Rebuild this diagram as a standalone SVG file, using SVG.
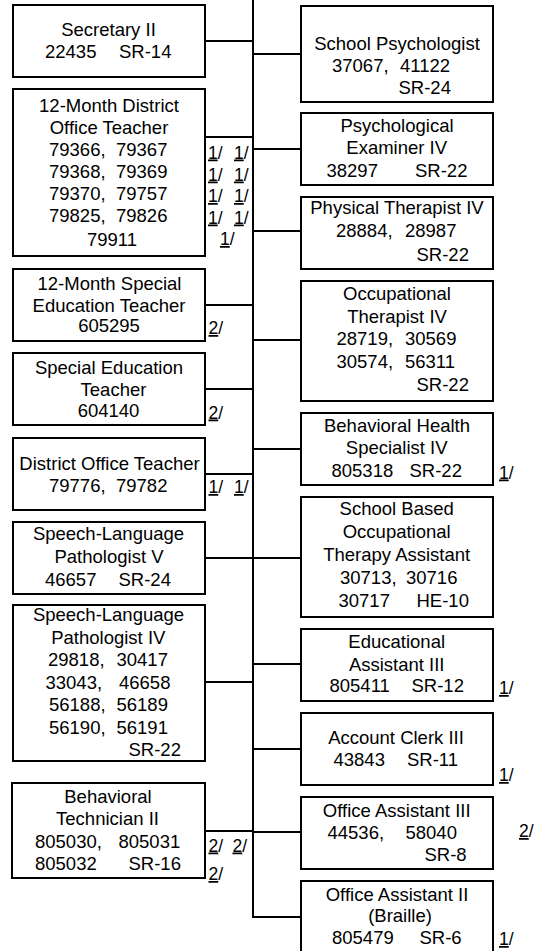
<svg xmlns="http://www.w3.org/2000/svg" width="535" height="951" viewBox="0 0 535 951">
<style>
  .box { fill: #fff; stroke: #000; stroke-width: 2; }
  .ln { stroke: #000; stroke-width: 2; fill: none; }
  text { font-family: "Liberation Sans", Arial, sans-serif; font-size: 18.5px; fill: #000; }
  .c { text-anchor: middle; }
  .fn { font-size: 17.5px; }
  .u { text-decoration: underline; }
</style>
<rect width="535" height="951" fill="#fff"/>

<!-- connectors: trunk and branches -->
<g id="connectors" class="ln">
  <path d="M253,0 V917 H301"/>
  <path d="M205,41 H253 M205,137 H253 M205,305 H253 M205,389 H253 M205,474 H253 M205,558 H253 M205,682 H253 M205,831 H253"/>
  <path d="M253,54 H301 M253,149 H301 M253,231 H301 M253,340 H301 M253,449 H301 M253,558 H301 M253,664 H301 M253,749 H301 M253,832 H301"/>
</g>

<!-- left column -->
<g id="secretary-ii">
  <rect class="box" x="13" y="5" width="192" height="72"/>
  <text class="c" x="108.5" y="36">Secretary II</text>
  <text x="45" y="57.5">22435</text><text x="119" y="57.5">SR-14</text>
</g>

<g id="district-office-teacher-12m">
  <rect class="box" x="13" y="89" width="192" height="167"/>
  <text class="c" x="109" y="112">12-Month District</text>
  <text class="c" x="109" y="134">Office Teacher</text>
  <text x="49" y="156">79366,</text><text x="116" y="156">79367</text>
  <text x="49" y="178">79368,</text><text x="116" y="178">79369</text>
  <text x="49" y="200">79370,</text><text x="116" y="200">79757</text>
  <text x="49" y="222">79825,</text><text x="116" y="222">79826</text>
  <text class="c" x="112" y="246">79911</text>
  <text class="fn" x="208" y="158.5"><tspan class="u">1</tspan>/</text><text class="fn" x="234" y="158.5"><tspan class="u">1</tspan>/</text>
  <text class="fn" x="208" y="180.5"><tspan class="u">1</tspan>/</text><text class="fn" x="234" y="180.5"><tspan class="u">1</tspan>/</text>
  <text class="fn" x="208" y="202"><tspan class="u">1</tspan>/</text><text class="fn" x="234" y="202"><tspan class="u">1</tspan>/</text>
  <text class="fn" x="208" y="223.5"><tspan class="u">1</tspan>/</text><text class="fn" x="234" y="223.5"><tspan class="u">1</tspan>/</text>
  <text class="fn" x="220" y="245"><tspan class="u">1</tspan>/</text>
</g>

<g id="special-ed-teacher-12m">
  <rect class="box" x="13" y="269" width="192" height="72"/>
  <text class="c" x="109.5" y="289.5">12-Month Special</text>
  <text class="c" x="109" y="311.5">Education Teacher</text>
  <text class="c" x="109" y="332">605295</text>
  <text class="fn" x="208.5" y="334"><tspan class="u">2</tspan>/</text>
</g>

<g id="special-ed-teacher">
  <rect class="box" x="13" y="353" width="192" height="72"/>
  <text class="c" x="109" y="373.5">Special Education</text>
  <text class="c" x="113.5" y="395.5">Teacher</text>
  <text class="c" x="108.5" y="417">604140</text>
  <text class="fn" x="208.5" y="418.5"><tspan class="u">2</tspan>/</text>
</g>

<g id="district-office-teacher">
  <rect class="box" x="13" y="438" width="192" height="72"/>
  <text class="c" x="109.5" y="469.5">District Office Teacher</text>
  <text x="49" y="491.5">79776,</text><text x="116" y="491.5">79782</text>
  <text class="fn" x="208.5" y="493"><tspan class="u">1</tspan>/</text><text class="fn" x="234" y="493"><tspan class="u">1</tspan>/</text>
</g>

<g id="slp-v">
  <rect class="box" x="13" y="522" width="192" height="72"/>
  <text class="c" x="108.5" y="539.5">Speech-Language</text>
  <text class="c" x="109" y="562.5">Pathologist V</text>
  <text x="45" y="585.5">46657</text><text x="118.5" y="585.5">SR-24</text>
</g>

<g id="slp-iv">
  <rect class="box" x="13" y="605" width="192" height="156"/>
  <text class="c" x="108.5" y="621">Speech-Language</text>
  <text class="c" x="108.3" y="643.5">Pathologist IV</text>
  <text x="48" y="666">29818,</text><text x="116.5" y="666">30417</text>
  <text x="45.5" y="688.5">33043,</text><text x="119" y="688.5">46658</text>
  <text x="49" y="711">56188,</text><text x="116.5" y="711">56189</text>
  <text x="49" y="733.5">56190,</text><text x="116.5" y="733.5">56191</text>
  <text x="128.5" y="756">SR-22</text>
</g>

<g id="behavioral-technician-ii">
  <rect class="box" x="12" y="783" width="193" height="95"/>
  <text class="c" x="108" y="802.5">Behavioral</text>
  <text class="c" x="107.5" y="825">Technician II</text>
  <text x="35" y="848">805030,</text><text x="118.5" y="848">805031</text>
  <text x="35" y="870">805032</text><text x="128.5" y="870">SR-16</text>
  <text class="fn" x="208.5" y="851.5"><tspan class="u">2</tspan>/</text><text class="fn" x="232.5" y="851.5"><tspan class="u">2</tspan>/</text>
  <text class="fn" x="208.5" y="880"><tspan class="u">2</tspan>/</text>
</g>

<!-- right column -->
<g id="school-psychologist">
  <rect class="box" x="301" y="6" width="192" height="96"/>
  <text class="c" x="397" y="49.5">School Psychologist</text>
  <text x="332" y="71.5">37067,</text><text x="400" y="71.5">41122</text>
  <text x="398.5" y="94">SR-24</text>
</g>

<g id="psychological-examiner-iv">
  <rect class="box" x="301" y="113" width="192" height="72"/>
  <text class="c" x="397" y="131.7">Psychological</text>
  <text class="c" x="396.7" y="154.3">Examiner IV</text>
  <text x="326.5" y="176.7">38297</text><text x="415" y="176.7">SR-22</text>
</g>

<g id="physical-therapist-iv">
  <rect class="box" x="301" y="197" width="192" height="72"/>
  <text class="c" x="397" y="214.3">Physical Therapist IV</text>
  <text x="336" y="237">28884,</text><text x="405" y="237">28987</text>
  <text x="416.5" y="261">SR-22</text>
</g>

<g id="occupational-therapist-iv">
  <rect class="box" x="301" y="281" width="192" height="120"/>
  <text class="c" x="397" y="300">Occupational</text>
  <text class="c" x="397" y="322.5">Therapist IV</text>
  <text x="336.5" y="345">28719,</text><text x="405" y="345">30569</text>
  <text x="336.5" y="367.5">30574,</text><text x="405" y="367.5">56311</text>
  <text x="416.5" y="391">SR-22</text>
</g>

<g id="behavioral-health-specialist-iv">
  <rect class="box" x="301" y="413" width="192" height="72"/>
  <text class="c" x="397" y="431.7">Behavioral Health</text>
  <text class="c" x="396.7" y="454.3">Specialist IV</text>
  <text x="331.5" y="476.7">805318</text><text x="409.5" y="476.7">SR-22</text>
  <text class="fn" x="499" y="478.5"><tspan class="u">1</tspan>/</text>
</g>

<g id="school-based-ot-assistant">
  <rect class="box" x="301" y="497" width="192" height="120"/>
  <text class="c" x="396.7" y="515">School Based</text>
  <text class="c" x="396.7" y="538">Occupational</text>
  <text class="c" x="396.7" y="560.5">Therapy Assistant</text>
  <text x="340" y="583.5">30713,</text><text x="406" y="583.5">30716</text>
  <text x="338.5" y="606.7">30717</text><text x="416.5" y="606.7">HE-10</text>
</g>

<g id="educational-assistant-iii">
  <rect class="box" x="301" y="629" width="192" height="72"/>
  <text class="c" x="396.7" y="648.3">Educational</text>
  <text class="c" x="396.7" y="670.7">Assistant III</text>
  <text x="329.5" y="692.3">805411</text><text x="411.5" y="692.3">SR-12</text>
  <text class="fn" x="499" y="694"><tspan class="u">1</tspan>/</text>
</g>

<g id="account-clerk-iii">
  <rect class="box" x="301" y="713" width="192" height="72"/>
  <text class="c" x="396" y="744">Account Clerk III</text>
  <text x="333.5" y="766">43843</text><text x="407" y="766">SR-11</text>
  <text class="fn" x="499" y="781"><tspan class="u">1</tspan>/</text>
</g>

<g id="office-assistant-iii">
  <rect class="box" x="301" y="797" width="192" height="72"/>
  <text class="c" x="396.7" y="816.7">Office Assistant III</text>
  <text x="327.5" y="839">44536,</text><text x="405.5" y="839">58040</text>
  <text x="424.5" y="861">SR-8</text>
  <text class="fn" x="519" y="837"><tspan class="u">2</tspan>/</text>
</g>

<g id="office-assistant-ii-braille">
  <rect class="box" x="301" y="881" width="192" height="72"/>
  <text class="c" x="397" y="900.7">Office Assistant II</text>
  <text class="c" x="400" y="921.5">(Braille)</text>
  <text x="332" y="944">805479</text><text x="419.5" y="944">SR-6</text>
  <text class="fn" x="499" y="945"><tspan class="u">1</tspan>/</text>
</g>
</svg>
